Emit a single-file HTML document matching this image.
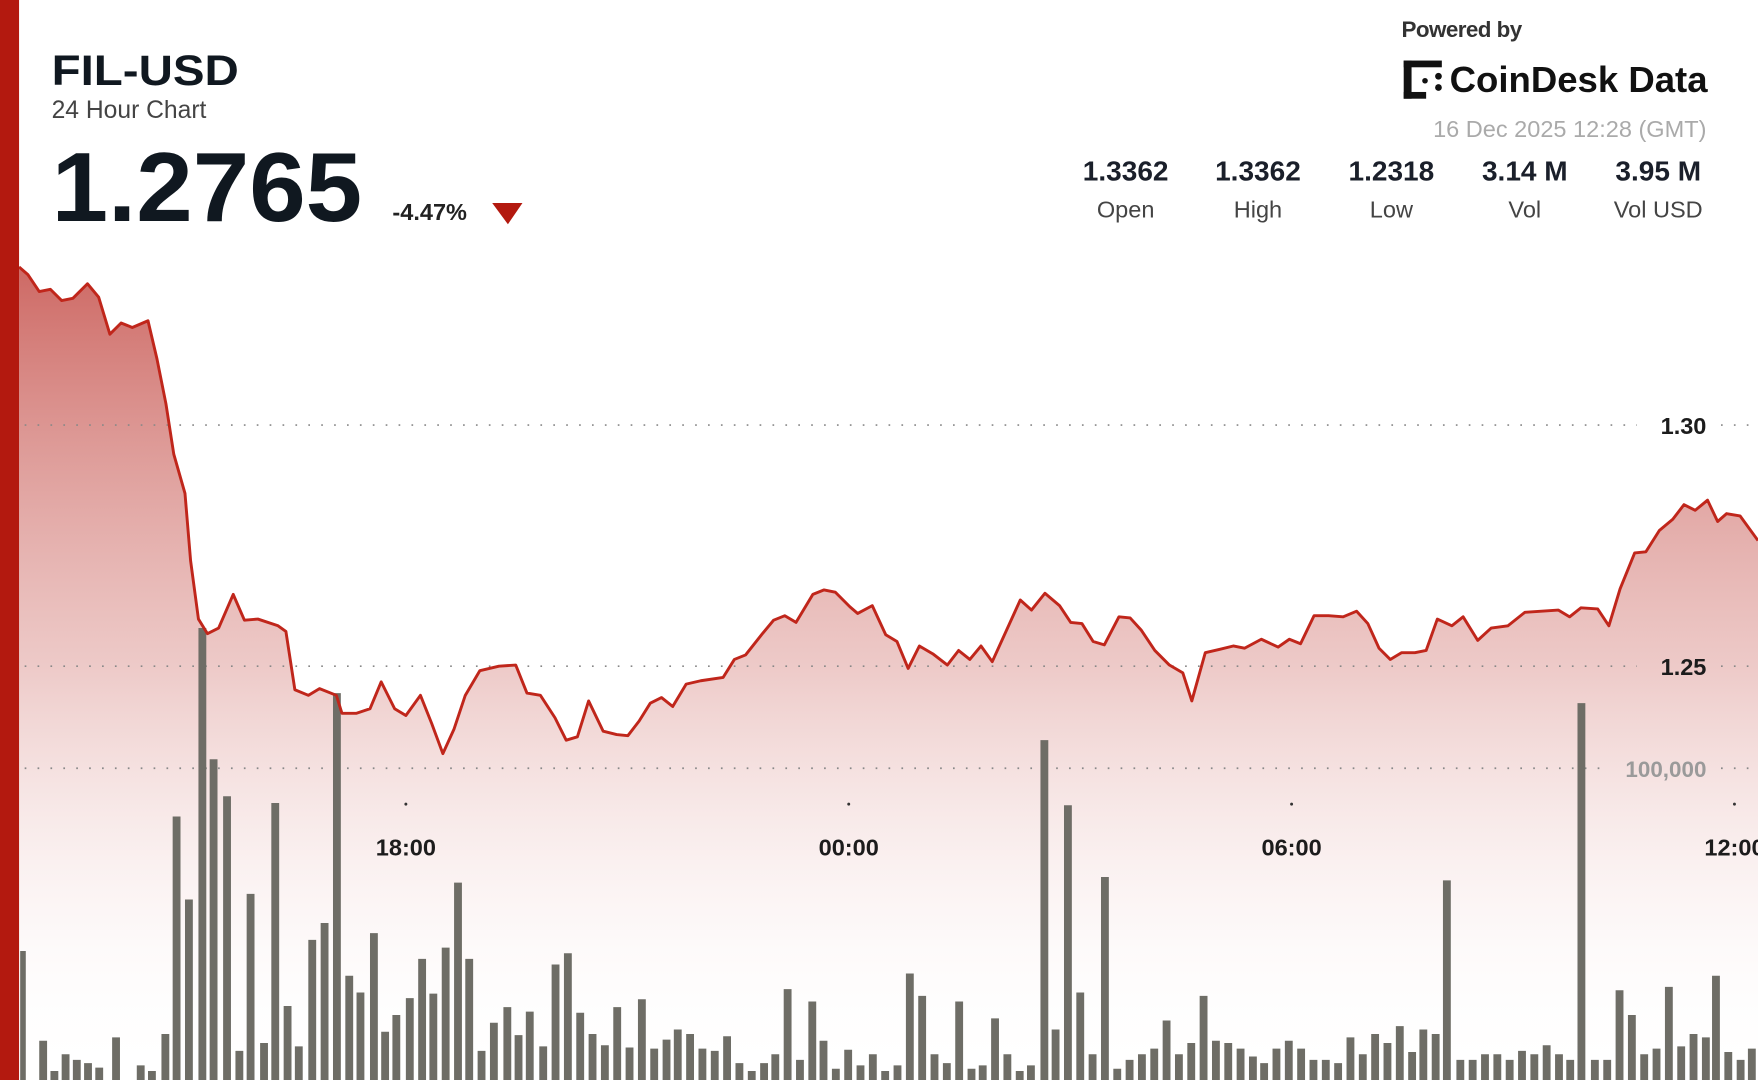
<!DOCTYPE html>
<html><head><meta charset="utf-8"><style>
html,body{margin:0;padding:0;background:#fff;width:1758px;height:1080px;overflow:hidden}
svg{display:block}
text{font-family:"Liberation Sans",sans-serif}
</style></head><body>
<svg width="1758" height="1080" viewBox="0 0 1568 963" preserveAspectRatio="none" xmlns="http://www.w3.org/2000/svg">
<defs>
<linearGradient id="g" gradientUnits="userSpaceOnUse" x1="0" y1="230" x2="0" y2="963">
<stop offset="0" stop-color="#c0403a" stop-opacity="0.8"/>
<stop offset="0.5" stop-color="#d88a86" stop-opacity="0.45"/>
<stop offset="1" stop-color="#ffffff" stop-opacity="0"/>
</linearGradient>
</defs>
<rect width="1568" height="963" fill="#fff"/>
<path fill="url(#g)" d="M17,238 L25,245 35,260 45,258 55,268 65,266 78,253 88,265 98,298 108,288 118,292 132,286 140,320 148,360 155,405 165,440 170,500 177,552 185,565 195,560 208,530 218,553 230,552 248,558 255,563 263,615 275,620 285,614 300,620 305,636 318,636 330,632 340,608 352,632 362,638 375,620 385,645 395,672 405,650 415,620 428,598 445,594 460,593 470,618 482,620 495,640 505,660 515,657 525,625 538,652 550,655 560,656 570,643 580,627 590,622 600,630 612,610 625,607 645,604 655,588 665,584 680,565 690,553 700,549 710,555 725,530 735,526 745,528 758,541 765,547 778,540 790,566 800,572 810,596 820,576 832,583 845,593 855,580 865,588 875,576 885,590 895,568 910,535 920,544 932,529 945,540 955,555 965,556 975,572 985,575 998,550 1008,551 1018,562 1030,580 1043,593 1055,600 1063,625 1075,582 1088,579 1100,576 1110,578 1125,570 1140,577 1150,570 1160,574 1172,549 1185,549 1198,550 1210,545 1220,556 1230,578 1240,588 1250,582 1262,582 1272,580 1282,552 1295,558 1305,550 1318,571 1330,560 1345,558 1360,546 1375,545 1390,544 1400,550 1410,542 1425,543 1435,558 1445,525 1458,493 1468,492 1480,473 1492,463 1502,450 1512,455 1523,446 1532,465 1540,458 1552,460 1568,482 L1568,963 L17,963 Z"/>
<g stroke="#888" stroke-width="1.5" stroke-dasharray="1.5,10">
<line x1="22" y1="379" x2="1460" y2="379"/><line x1="1535" y1="379" x2="1568" y2="379"/>
<line x1="22" y1="594" x2="1460" y2="594"/><line x1="1535" y1="594" x2="1568" y2="594"/>
<line x1="22" y1="685" x2="1430" y2="685"/><line x1="1535" y1="685" x2="1568" y2="685"/>
</g>
<path fill="#6e6d66" d="M18,848h5V963h-5z M35,928h7V963h-7z M45,955h7V963h-7z M55,940h7V963h-7z M65,945h7V963h-7z M75,948h7V963h-7z M85,952h7V963h-7z M100,925h7V963h-7z M122,950h7V963h-7z M132,955h7V963h-7z M144,922h7V963h-7z M154,728h7V963h-7z M165,802h7V963h-7z M177,560h7V963h-7z M187,677h7V963h-7z M199,710h7V963h-7z M210,937h7V963h-7z M220,797h7V963h-7z M232,930h7V963h-7z M242,716h7V963h-7z M253,897h7V963h-7z M263,933h7V963h-7z M275,838h7V963h-7z M286,823h7V963h-7z M297,618h7V963h-7z M308,870h7V963h-7z M318,885h7V963h-7z M330,832h7V963h-7z M340,920h7V963h-7z M350,905h7V963h-7z M362,890h7V963h-7z M373,855h7V963h-7z M383,886h7V963h-7z M394,845h7V963h-7z M405,787h7V963h-7z M415,855h7V963h-7z M426,937h7V963h-7z M437,912h7V963h-7z M449,898h7V963h-7z M459,923h7V963h-7z M469,902h7V963h-7z M481,933h7V963h-7z M492,860h7V963h-7z M503,850h7V963h-7z M514,903h7V963h-7z M525,922h7V963h-7z M536,932h7V963h-7z M547,898h7V963h-7z M558,934h7V963h-7z M569,891h7V963h-7z M580,935h7V963h-7z M591,927h7V963h-7z M601,918h7V963h-7z M612,922h7V963h-7z M623,935h7V963h-7z M634,937h7V963h-7z M645,924h7V963h-7z M656,948h7V963h-7z M667,955h7V963h-7z M678,948h7V963h-7z M688,940h7V963h-7z M699,882h7V963h-7z M710,945h7V963h-7z M721,893h7V963h-7z M731,928h7V963h-7z M742,953h7V963h-7z M753,936h7V963h-7z M764,950h7V963h-7z M775,940h7V963h-7z M786,955h7V963h-7z M797,950h7V963h-7z M808,868h7V963h-7z M819,888h7V963h-7z M830,940h7V963h-7z M841,948h7V963h-7z M852,893h7V963h-7z M863,953h7V963h-7z M873,950h7V963h-7z M884,908h7V963h-7z M895,940h7V963h-7z M906,955h7V963h-7z M916,950h7V963h-7z M928,660h7V963h-7z M938,918h7V963h-7z M949,718h7V963h-7z M960,885h7V963h-7z M971,940h7V963h-7z M982,782h7V963h-7z M993,953h7V963h-7z M1004,945h7V963h-7z M1015,940h7V963h-7z M1026,935h7V963h-7z M1037,910h7V963h-7z M1048,940h7V963h-7z M1059,930h7V963h-7z M1070,888h7V963h-7z M1081,928h7V963h-7z M1092,930h7V963h-7z M1103,935h7V963h-7z M1114,942h7V963h-7z M1124,948h7V963h-7z M1135,935h7V963h-7z M1146,928h7V963h-7z M1157,935h7V963h-7z M1168,945h7V963h-7z M1179,945h7V963h-7z M1190,948h7V963h-7z M1201,925h7V963h-7z M1212,940h7V963h-7z M1223,922h7V963h-7z M1234,930h7V963h-7z M1245,915h7V963h-7z M1256,938h7V963h-7z M1266,918h7V963h-7z M1277,922h7V963h-7z M1287,785h7V963h-7z M1299,945h7V963h-7z M1310,945h7V963h-7z M1321,940h7V963h-7z M1332,940h7V963h-7z M1343,945h7V963h-7z M1354,937h7V963h-7z M1365,940h7V963h-7z M1376,932h7V963h-7z M1387,940h7V963h-7z M1397,945h7V963h-7z M1407,627h7V963h-7z M1419,945h7V963h-7z M1430,945h7V963h-7z M1441,883h7V963h-7z M1452,905h7V963h-7z M1463,940h7V963h-7z M1474,935h7V963h-7z M1485,880h7V963h-7z M1496,933h7V963h-7z M1507,922h7V963h-7z M1518,925h7V963h-7z M1527,870h7V963h-7z M1538,938h7V963h-7z M1549,945h7V963h-7z M1559,935h7V963h-7z"/>
<path fill="none" stroke="#c0261b" stroke-width="2.6" stroke-linejoin="round" d="M17,238 L25,245 35,260 45,258 55,268 65,266 78,253 88,265 98,298 108,288 118,292 132,286 140,320 148,360 155,405 165,440 170,500 177,552 185,565 195,560 208,530 218,553 230,552 248,558 255,563 263,615 275,620 285,614 300,620 305,636 318,636 330,632 340,608 352,632 362,638 375,620 385,645 395,672 405,650 415,620 428,598 445,594 460,593 470,618 482,620 495,640 505,660 515,657 525,625 538,652 550,655 560,656 570,643 580,627 590,622 600,630 612,610 625,607 645,604 655,588 665,584 680,565 690,553 700,549 710,555 725,530 735,526 745,528 758,541 765,547 778,540 790,566 800,572 810,596 820,576 832,583 845,593 855,580 865,588 875,576 885,590 895,568 910,535 920,544 932,529 945,540 955,555 965,556 975,572 985,575 998,550 1008,551 1018,562 1030,580 1043,593 1055,600 1063,625 1075,582 1088,579 1100,576 1110,578 1125,570 1140,577 1150,570 1160,574 1172,549 1185,549 1198,550 1210,545 1220,556 1230,578 1240,588 1250,582 1262,582 1272,580 1282,552 1295,558 1305,550 1318,571 1330,560 1345,558 1360,546 1375,545 1390,544 1400,550 1410,542 1425,543 1435,558 1445,525 1458,493 1468,492 1480,473 1492,463 1502,450 1512,455 1523,446 1532,465 1540,458 1552,460 1568,482"/>
<rect x="0" y="0" width="17" height="963" fill="#b3190f"/>
<g font-weight="bold" fill="#1c1c1c" font-size="21" text-anchor="end">
<text x="1522" y="387">1.30</text><text x="1522" y="602">1.25</text>
</g>
<text x="1522" y="693" font-size="20" font-weight="bold" fill="#9a9a9a" text-anchor="end">100,000</text>
<g fill="#333"><circle cx="362" cy="717" r="1.3"/><circle cx="757" cy="717" r="1.3"/><circle cx="1152" cy="717" r="1.3"/><circle cx="1547" cy="717" r="1.3"/></g>
<g font-weight="bold" fill="#1c1c1c" font-size="21" text-anchor="middle">
<text x="362" y="763">18:00</text><text x="757" y="763">00:00</text><text x="1152" y="763">06:00</text><text x="1547" y="763">12:00</text>
</g>
<text x="46" y="76" font-size="38" font-weight="bold" fill="#101820" textLength="167" lengthAdjust="spacingAndGlyphs">FIL-USD</text>
<text x="46" y="105" font-size="22" fill="#444">24 Hour Chart</text>
<text x="46" y="197" font-size="88" font-weight="bold" fill="#101820" textLength="277" lengthAdjust="spacingAndGlyphs">1.2765</text>
<text x="350" y="196" font-size="21" font-weight="bold" fill="#222">-4.47%</text>
<polygon points="439,181 466,181 453,200" fill="#b3190f"/>
<text x="1250" y="33" font-size="20" font-weight="bold" fill="#333" letter-spacing="-0.5">Powered by</text>
<g fill="#111"><rect x="1252" y="54" width="7" height="34"/><rect x="1252" y="54" width="34" height="6"/><rect x="1252" y="82" width="20" height="6"/><circle cx="1283" cy="68" r="3"/><circle cx="1283" cy="78" r="3"/><circle cx="1271" cy="72" r="2.5"/></g>
<text x="1293" y="82" font-size="32" font-weight="bold" fill="#111" textLength="230" lengthAdjust="spacingAndGlyphs">CoinDesk Data</text>
<text x="1522" y="122" font-size="21" fill="#aaa" text-anchor="end">16 Dec 2025 12:28 (GMT)</text>
<g font-size="25" font-weight="bold" fill="#1a1f2a" text-anchor="middle">
<text x="1004" y="161">1.3362</text><text x="1122" y="161">1.3362</text><text x="1241" y="161">1.2318</text><text x="1360" y="161">3.14 M</text><text x="1479" y="161">3.95 M</text>
</g>
<g font-size="21" fill="#444" text-anchor="middle">
<text x="1004" y="194">Open</text><text x="1122" y="194">High</text><text x="1241" y="194">Low</text><text x="1360" y="194">Vol</text><text x="1479" y="194">Vol USD</text>
</g>
</svg>
</body></html>
